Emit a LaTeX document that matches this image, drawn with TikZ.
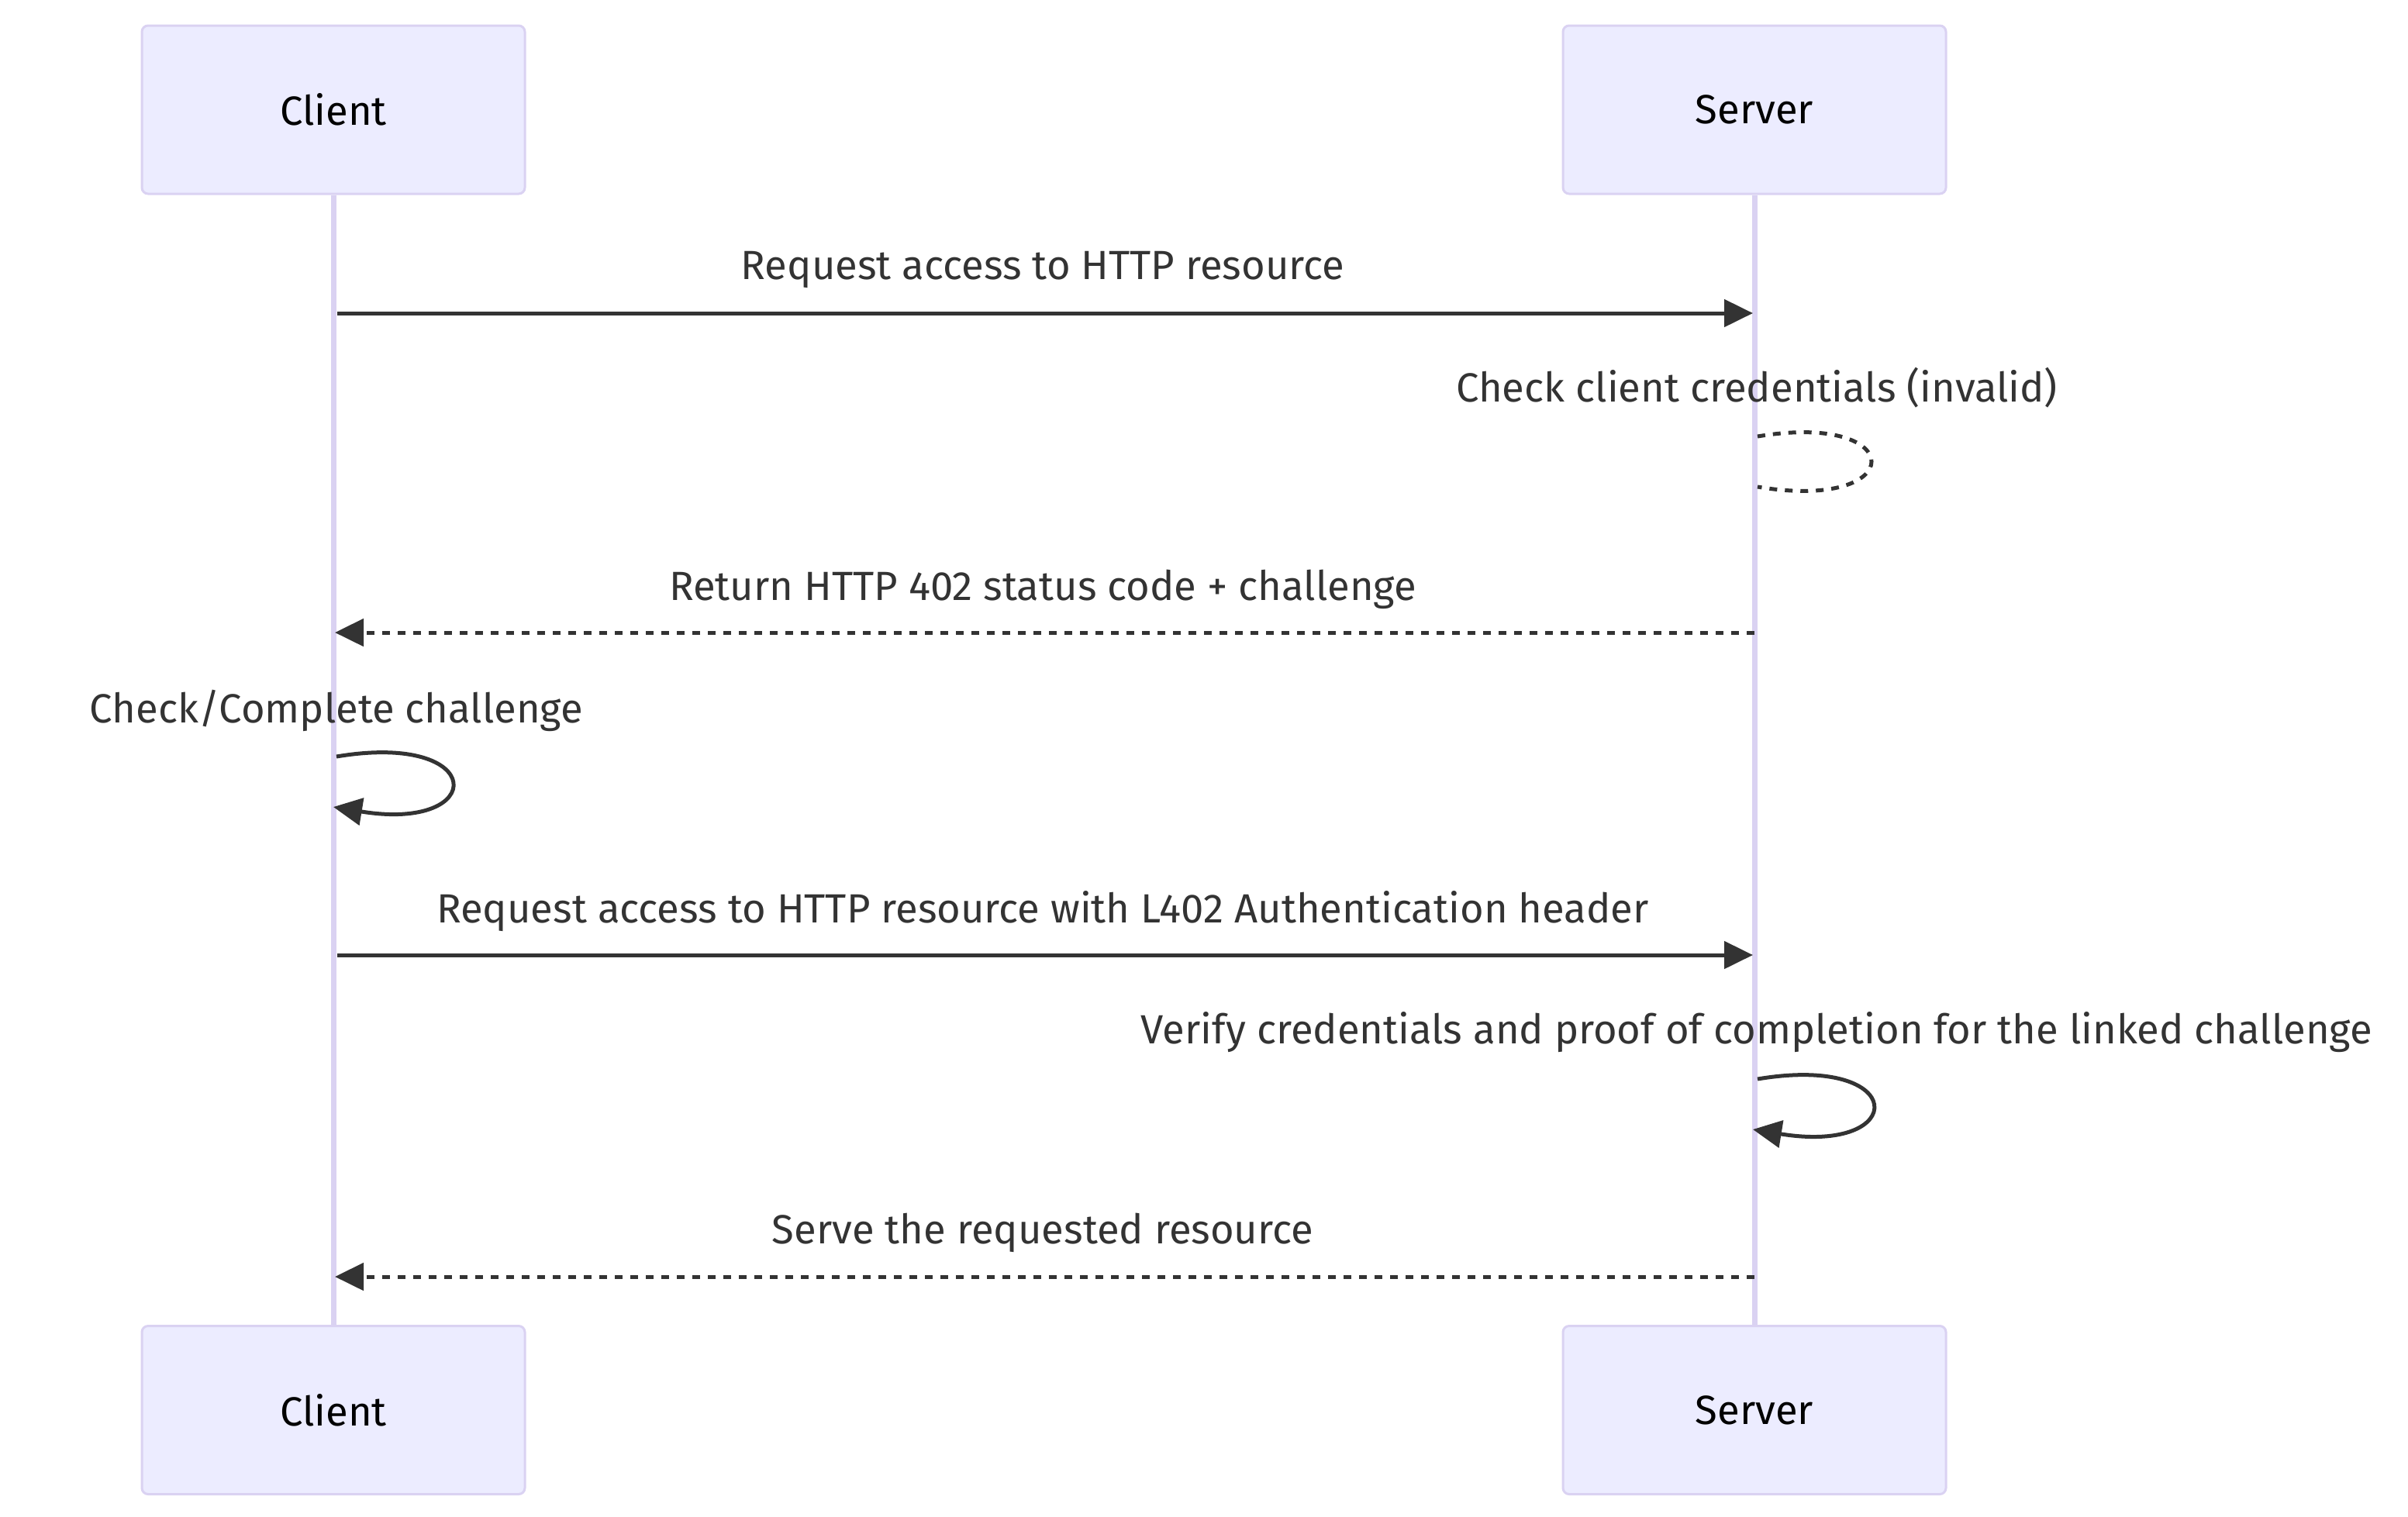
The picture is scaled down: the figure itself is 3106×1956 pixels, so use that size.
\documentclass[tikz,border=0pt]{standalone}
\usepackage{fontspec}
\setmainfont{Fira Sans}
\usetikzlibrary{arrows.meta}
\definecolor{actfill}{HTML}{ECECFF}
\definecolor{actline}{HTML}{DAD2F2}
\definecolor{msg}{HTML}{333333}
\tikzset{
  x=0.5pt, y=-0.5pt,
  actor/.style={draw=actline, line width=1.5pt, fill=actfill, rounded corners=4pt,
    minimum width=247pt, minimum height=108.5pt, inner sep=0pt, font=\fontsize{26.3}{30}\selectfont, text=black},
  lifeline/.style={draw=actline, line width=3.5pt},
  msgline/.style={draw=msg, line width=2.5pt, -{Triangle[length=18.5pt,width=17.5pt]}},
  msgdash/.style={msgline, dash pattern=on 5pt off 5pt},
  loopdash/.style={draw=msg, line width=2.5pt, dash pattern=on 5pt off 5pt},
  lbl/.style={anchor=base, inner sep=0pt, text=msg, font=\fontsize{26.3}{30}\selectfont},
}
\begin{document}
\begin{tikzpicture}
\useasboundingbox (0,0) rectangle (3106,1956);
% actors
\node[actor] (ct) at (430,141.5) {Client};
\node[actor] (st) at (2263,141.5) {Server};
\node[actor] (cb) at (430,1819) {Client};
\node[actor] (sb) at (2263,1819) {Server};
% lifelines
\draw[lifeline] (ct.south) -- (cb.north);
\draw[lifeline] (st.south) -- (sb.north);
% anchor coordinates on lifelines
\coordinate (c1) at (435,404);  \coordinate (s1) at (2261,404);
\coordinate (l1a) at (2267,563); \coordinate (l1b) at (2267,628);
\coordinate (s3) at (2263,816); \coordinate (c3) at (432,816);
\coordinate (l2a) at (434,976);  \coordinate (l2b) at (430,1041);
\coordinate (c5) at (435,1232); \coordinate (s5) at (2261,1232);
\coordinate (l3a) at (2267,1392); \coordinate (l3b) at (2261,1457);
\coordinate (s7) at (2263,1647); \coordinate (c7) at (432,1647);
% labels
\node[lbl] (t1) at (1345,360) {Request access to HTTP resource};
\node[lbl] (t2) at (2266,518) {Check client credentials (invalid)};
\node[lbl] (t3) at (1345,774) {Return HTTP 402 status code + challenge};
\node[lbl] (t4) at (434,932) {Check/Complete challenge};
\node[lbl] (t5) at (1345,1190) {Request access to HTTP resource with L402 Authentication header};
\node[lbl] (t6) at (2266,1346) {Verify credentials and proof of completion for the linked challenge};
\node[lbl] (t7) at (1345,1604) {Serve the requested resource};
% messages
\draw[msgline] (c1) -- (s1);
\draw[loopdash] (l1a) .. controls ([shift={(196,-33)}]l1a) and ([shift={(196,98)}]l1a) .. (l1b);
\draw[msgdash] (s3) -- (c3);
\draw[msgline] (l2a) .. controls ([shift={(196,-33)}]l2a) and ([shift={(196,98)}]l2a) .. (l2b);
\draw[msgline] (c5) -- (s5);
\draw[msgline] (l3a) .. controls ([shift={(196,-33)}]l3a) and ([shift={(196,98)}]l3a) .. (l3b);
\draw[msgdash] (s7) -- (c7);
\end{tikzpicture}
\end{document}
